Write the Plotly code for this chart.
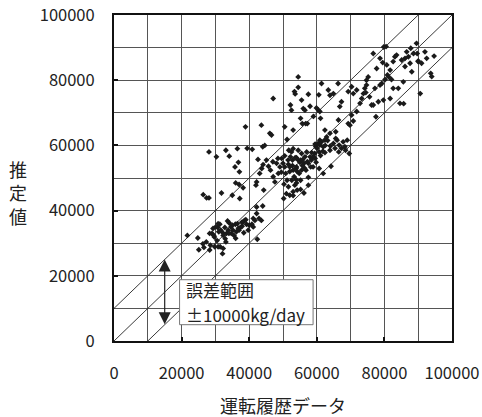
import plotly.graph_objects as go

# --- data ---
x_vals = [
 21700,24800,25100,26300,26600,28300,28500,28300,29000,29700,30700,31300,30800,31600,32100,32300,32300,31400,32100,32900,
 33300,33800,34100,34600,35200,35500,35900,36500,37000,37400,37900,38200,38600,39200,40000,40800,41200,42200,41700,42900,
 43600,41200,42400,44000,42200,27300,29800,30800,29300,30100,34700,36200,39700,33100,
 31000,32800,34000,35000,36800,37800,39000,33600,30500,29500,38400,36000,
 28100,30300,26400,27400,28100,31800,33100,34100,35000,35800,36800,36500,37100,37200,37000,36000,38200,38900,39400,40900,
 42000,42200,43100,43600,44000,44600,46100,46600,47100,45100,45700,46300,47100,47600,48600,49600,50500,51200,42600,44100,
 43700,44300,
 50000,50500,50800,51200,50300,50200,51000,51600,52000,52200,52500,52800,53000,53300,52600,53500,53000,54200,54000,54500,
 54800,55200,55500,55500,56200,56500,57000,58000,58200,58900,59400,59700,60100,60400,60900,61400,60700,61100,61900,62400,
 62900,63900,63900,64900,65400,65600,66000,66600,67300,67800,68300,69000,69600,69800,69300,70300,66400,64200,61900,57500,
 56200,53000,58900,58400,60700,59800,57500,56800,52000,51600,53900,55200,54000,55700,48100,49100,51700,53000,54500,54000,
 60900,59500,62400,
 51500,52800,53600,54200,55000,55800,56400,57200,58500,59500,61800,62500,63200,64000,66500,68500,50500,49500,48500,47000,
 53900,55200,57500,52000,
 54500,53400,53600,54500,52200,52500,55500,56000,56500,57500,58000,55200,55700,56700,57200,53000,59900,60400,60900,60600,
 61400,63400,63900,64900,66300,66800,67300,65600,62400,61100,59000,
 69300,70800,70300,71800,72800,73300,73800,74200,74700,75200,74700,76200,76700,77200,77500,78200,78700,79200,79700,76700,
 77700,78700,79500,80200,80500,80700,80900,81700,81700,82100,82600,83100,83600,84100,84600,85100,85600,86100,86600,87100,
 87600,88100,87800,88600,89500,90000,90600,91000,92000,92500,93700,94000,94700,89700,86100,82600,81300,90000,85700,79800,
 75600,74500,71800,70800,
]
y_vals = [
 32400,31600,28000,29800,28700,27900,29400,33000,33000,31900,34800,35800,36000,34000,33300,32400,28400,28900,26800,31400,
 33000,34000,36200,35000,34000,32400,35800,36000,34000,34800,35200,36500,37000,35800,35500,35800,37600,39100,37000,37600,
 37000,35000,31200,41400,41100,30400,28900,28900,34500,35000,33000,33500,34000,30400,
 33500,34800,33000,35500,34600,36400,37200,36800,30800,32400,33200,31500,
 58000,56500,44900,43900,43900,45400,58500,56700,44700,53400,54800,59000,51900,43700,48000,48500,47000,65700,59100,58800,
 47800,48800,51400,66200,59600,60000,63700,63200,74400,55500,53600,52400,50400,48800,51400,56000,65700,61800,55700,54100,
 52900,46300,
 54500,53400,51400,49300,48100,43700,45200,47300,53400,56500,58000,55500,52400,50400,49300,47800,45800,46300,53400,55500,
 51400,49300,57500,52400,54500,56500,58000,56500,53400,53400,57500,59600,59100,60600,60100,61100,58000,56900,59600,61600,
 62600,58500,63700,60600,59100,62100,61600,60100,59100,61100,59600,61600,57500,66200,66700,69300,67800,53600,51400,47800,
 45400,44600,56500,55500,52900,54800,54500,52400,52000,54200,53000,55500,56200,53800,54500,53400,58500,59000,58500,48500,
 61600,60400,57800,
 55500,53800,56200,52000,54800,55600,53000,55000,57800,56000,58200,60000,61500,59800,58000,58500,56800,51800,56000,55000,
 49500,46500,50200,44700,
 81000,76500,75800,77800,72400,70800,73900,71300,70800,75700,72000,68300,66700,66700,66700,64700,71500,70900,70400,75500,
 79000,77000,75400,75900,79000,71900,73400,64200,64700,68300,68900,
 76500,75900,78000,77000,72900,74400,75900,77500,78500,81000,80000,72400,72400,77500,68800,73400,78500,79000,73900,88200,
 83600,86700,85400,80200,90300,84700,81600,83100,74400,80200,85700,87200,87700,77500,72900,86200,79500,86700,88700,87200,
 85200,82600,89800,88200,91300,85700,75900,85200,88700,86700,82100,81100,87400,88200,84200,77500,81000,85900,72800,90200,
 74900,76200,70400,67500,
]
band_offsets = [10000, 0, -10000]
line_x = [0, 100000]
tick_vals = [0, 20000, 40000, 60000, 80000, 100000]
tick_text = ["0", "20000", "40000", "60000", "80000", "100000"]
legend_lines = ["誤差範囲", "±10000kg/day"]

FONT = "Noto Sans CJK JP, Noto Sans, sans-serif"
fig = go.Figure()

for off in band_offsets:
    fig.add_trace(go.Scatter(x=line_x, y=[v + off for v in line_x], mode="lines",
                             line=dict(color="#222", width=0.9), hoverinfo="skip", showlegend=False))

fig.add_trace(go.Scatter(x=x_vals, y=y_vals, mode="markers",
                         marker=dict(symbol="diamond", size=4.5, color="#1a1a1a", line=dict(width=0)),
                         showlegend=False))

axis_common = dict(
    range=[0, 100000], tickvals=tick_vals, ticktext=tick_text, automargin=False,
    showgrid=True, gridcolor="#555", gridwidth=1,
    minor=dict(dtick=10000, tick0=0, showgrid=True, gridcolor="#555", gridwidth=1),
    showline=True, linecolor="#111", linewidth=2, mirror=True,
    ticks="inside", ticklen=4, tickwidth=2, tickcolor="#111",
    zeroline=False,
    tickfont=dict(family=FONT, size=16.5, color="#222"),
)
fig.update_xaxes(**axis_common, ticklabelstandoff=16)
fig.update_yaxes(**axis_common, ticklabelstandoff=14)

# legend box (white box drawn above the lines, text on top)
fig.add_shape(type="rect", xref="x", yref="y", x0=19400, x1=58900, y0=5000, y1=18800,
              fillcolor="white", line=dict(color="#777", width=1), layer="above")
fig.add_annotation(xref="x", yref="y", x=20800, y=15700, xanchor="left", yanchor="middle",
                   text=legend_lines[0], showarrow=False, font=dict(family=FONT, size=17, color="#222"))
fig.add_annotation(xref="x", yref="y", x=20800, y=8000, xanchor="left", yanchor="middle",
                   text=legend_lines[1], showarrow=False, font=dict(family=FONT, size=17, color="#222"))
# double arrow
fig.add_annotation(xref="x", yref="y", axref="x", ayref="y", x=15000, y=25000, ax=15000, ay=4700,
                   text="", showarrow=True, arrowhead=2, arrowside="end+start",
                   arrowsize=2, arrowwidth=1.2, arrowcolor="#222")

# axis titles
fig.add_annotation(xref="paper", yref="paper", x=0.5, y=0, yshift=-64, xanchor="center", yanchor="middle",
                   text="運転履歴データ", showarrow=False, font=dict(family=FONT, size=18, color="#222"))
fig.add_annotation(xref="paper", yref="paper", x=0, y=0.457, xshift=-96, xanchor="center", yanchor="middle",
                   text="推<br>定<br>値", showarrow=False, font=dict(family=FONT, size=18, color="#222"))

fig.update_layout(width=482, height=417, margin=dict(l=114, r=30, t=15, b=76, autoexpand=False),
                  plot_bgcolor="white", paper_bgcolor="white")
# remove the default page margin so the figure sits at the window's top-left corner
fig.write_html("out.html", config={"displayModeBar": False},
               post_script="document.body.style.margin='0';")
